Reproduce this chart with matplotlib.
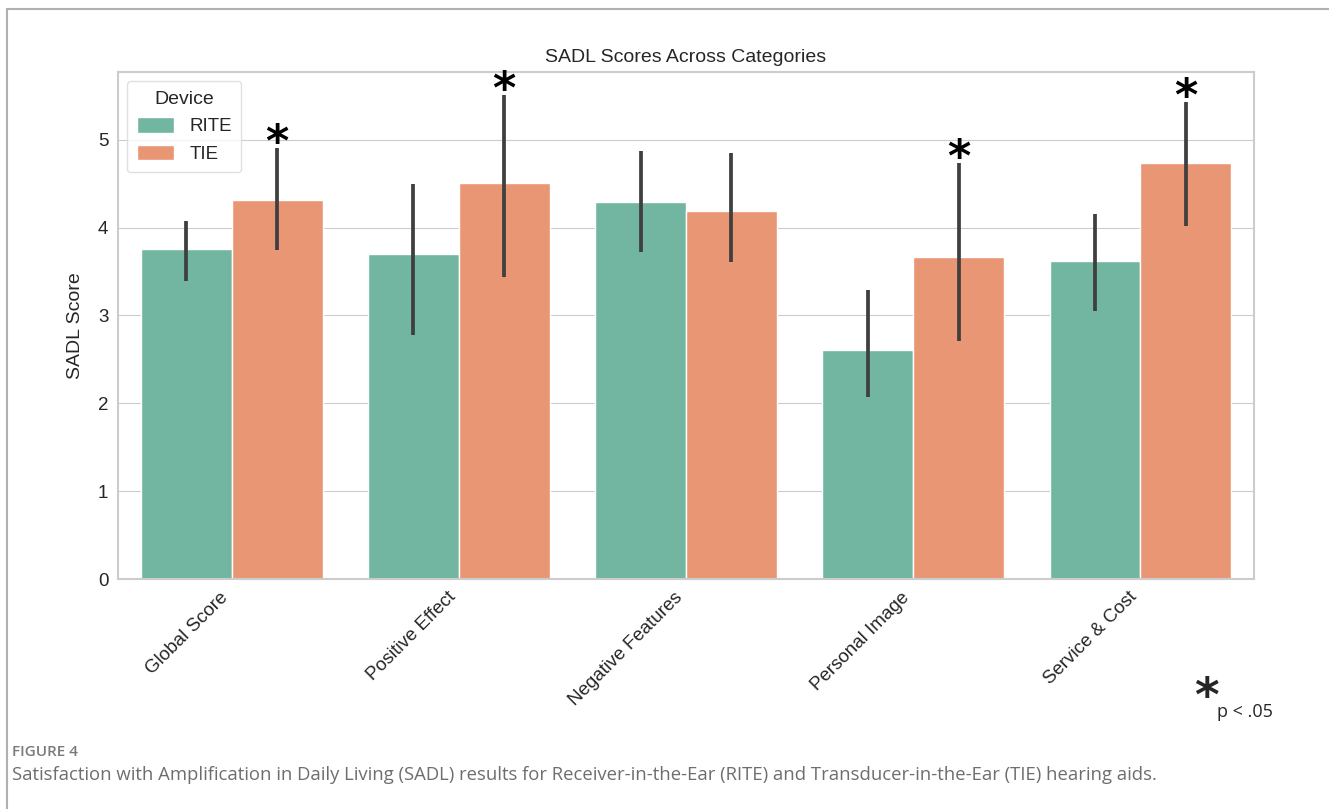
import numpy as np
import matplotlib
matplotlib.use("Agg")
import matplotlib.pyplot as plt
import seaborn as sns
from matplotlib.lines import Line2D

categories = ["Global Score", "Positive Effect", "Negative Features", "Personal Image", "Service & Cost"]
devices = ["RITE", "TIE"]
rite_mean = [3.75, 3.70, 4.29, 2.61, 3.62]
rite_low = [3.39, 2.78, 3.72, 2.07, 3.05]
rite_high = [4.07, 4.49, 4.87, 3.29, 4.15]
tie_mean = [4.31, 4.51, 4.19, 3.66, 4.73]
tie_low = [3.74, 3.44, 3.61, 2.71, 4.02]
tie_high = [4.91, 5.51, 4.85, 4.74, 5.43]
# which bars got a significance star
tie_signif = [True, True, False, True, True]

sns.set_style("whitegrid")
plt.rcParams['font.family'] = ['Liberation Sans', 'DejaVu Sans']

pal = sns.color_palette("Set2", 2, desat=0.75)

fig = plt.figure(figsize=(13.29, 8.09), dpi=100)
ax = fig.add_axes([0.0888, 0.2843, 0.8548, 0.6267])

x = np.arange(len(categories))
w = 0.4
series = [(rite_mean, rite_low, rite_high), (tie_mean, tie_low, tie_high)]
for i, (m, lo, hi) in enumerate(series):
    m = np.array(m)
    err = [m - np.array(lo), np.array(hi) - m]
    ax.bar(x + (i - 0.5) * w, m, width=w, color=pal[i], edgecolor="white",
           linewidth=1, label=devices[i], zorder=2)
    ax.errorbar(x + (i - 0.5) * w, m, yerr=err, fmt="none", ecolor="#3f3f3f",
                elinewidth=2.7, capsize=0, zorder=3)

for k, s in enumerate(tie_signif):
    if s:
        ax.annotate("*", (x[k] + 0.5 * w, tie_high[k]), xytext=(0, -6),
                    textcoords="offset points", ha="center", va="baseline",
                    fontsize=32, color="black", weight="bold",
                    family="DejaVu Sans", zorder=4)

ax.set_xlim(-0.5, len(categories) - 0.5)
ax.set_ylim(0, 5.77)
ax.set_xticks(x)
ax.set_xticklabels(categories, rotation=45, ha="right", fontsize=13.5)
ax.tick_params(axis="y", labelsize=13.5)
ax.set_ylabel("SADL Score", fontsize=14, labelpad=10)
ax.set_title("SADL Scores Across Categories", fontsize=14, pad=7)
ax.grid(axis="x", visible=False)
for sp in ax.spines.values():
    sp.set_color("#cccccc")
    sp.set_linewidth(1.5)

leg = ax.legend(title="Device", loc="upper left", fontsize=13.5, title_fontsize=14,
                handlelength=2.0, handleheight=0.9, borderpad=0.5, handletextpad=0.8)
leg.get_frame().set_edgecolor("#d9d9d9")

# significance key
fig.text(0.9075, 0.121, "*", fontsize=34, ha="center", va="baseline",
         weight="bold", family="DejaVu Sans")
fig.text(0.916, 0.12, "p < .05", fontsize=13, ha="left", va="center",
         family=["Open Sans", "DejaVu Sans"])

# caption
fig.text(0.009, 0.07, "FIGURE 4", fontsize=11, color="#7a7a7a", weight="semibold",
         family=["Open Sans", "DejaVu Sans"], va="center")
fig.text(0.009, 0.042, "Satisfaction with Amplification in Daily Living (SADL) results for "
         "Receiver-in-the-Ear (RITE) and Transducer-in-the-Ear (TIE) hearing aids.",
         fontsize=13.35, color="#6e6e6e", family=["Open Sans", "DejaVu Sans"], va="center")

# page frame
fig.add_artist(Line2D([0.0053, 1.0], [0.989, 0.989], color="#b0b0b0", lw=1.5))
fig.add_artist(Line2D([0.0053, 0.0053], [0.0, 0.989], color="#b0b0b0", lw=1.5))

fig.savefig("out.png", dpi=100)
